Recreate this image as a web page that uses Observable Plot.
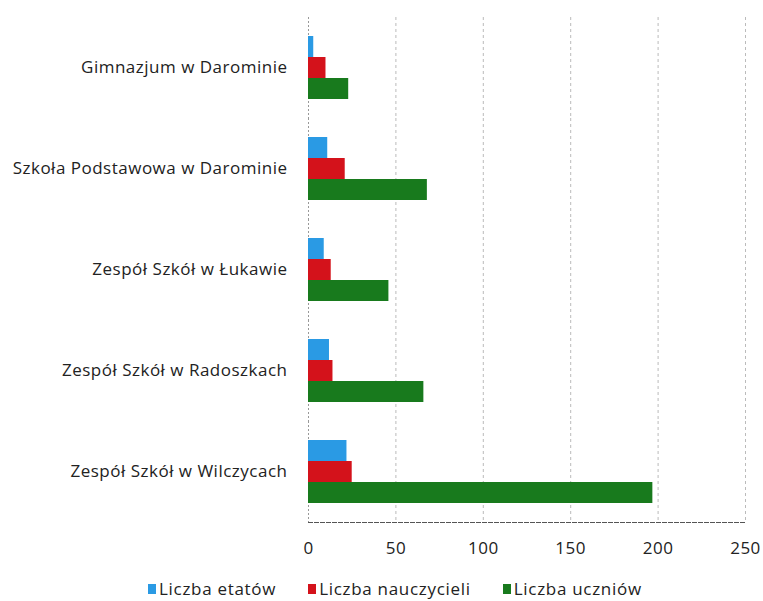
<!DOCTYPE html>
<html>
<head>
<meta charset="utf-8">
<script src="https://cdn.jsdelivr.net/npm/d3@7"></script>
<script src="https://cdn.jsdelivr.net/npm/@observablehq/plot@0.6"></script>
<style>
  html, body { margin: 0; padding: 0; background: #fff; }
  body { width: 763px; height: 601px; overflow: hidden; font-family: "Open Sans", sans-serif; }
  #legend { display: flex; align-items: center; margin-left: 148px; margin-top: 12px; font-size: 17px; letter-spacing: 0.7px; color: #222; }
  #legend .item { display: flex; align-items: center; margin-right: 32px; }
  #legend .sw { width: 8px; height: 10px; margin-right: 3px; }
</style>
</head>
<body>
<div id="chart"></div>
<div id="legend"></div>
<script>
const schools = [
  "Gimnazjum w Darominie",
  "Szkoła Podstawowa w Darominie",
  "Zespół Szkół w Łukawie",
  "Zespół Szkół w Radoszkach",
  "Zespół Szkół w Wilczycach"
];
const seriesNames = ["Liczba etatów", "Liczba nauczycieli", "Liczba uczniów"];
const seriesColors = ["#2a9ae4", "#d4121b", "#187a1d"];
const etaty = [3, 11, 9, 12, 22];
const nauczyciele = [10, 21, 13, 14, 25];
const uczniowie = [23, 68, 46, 66, 197];
const xTicks = [0, 50, 100, 150, 200, 250];

const seriesValues = [etaty, nauczyciele, uczniowie];
const data = [];
schools.forEach((s, i) => {
  seriesNames.forEach((n, j) => {
    data.push({school: s, series: n, value: seriesValues[j][i]});
  });
});

const chart = Plot.plot({
  width: 763,
  height: 565,
  marginLeft: 308,
  marginRight: 18,
  marginTop: 16,
  marginBottom: 42,
  style: {fontFamily: "'Open Sans', sans-serif", fontSize: "17px", letterSpacing: "0.5px", color: "#222", background: "#fff"},
  x: {domain: [0, 250], ticks: xTicks, tickSize: 0, tickPadding: 19, label: null},
  y: {domain: seriesNames, axis: null, paddingInner: 0, paddingOuter: 0.8},
  fy: {domain: schools, axis: "left", tickSize: 0, tickPadding: 21, label: null, padding: 0},
  color: {domain: seriesNames, range: seriesColors},
  marks: [
    Plot.ruleX(xTicks.slice(1), {stroke: "#bbb", strokeDasharray: "3,3"}),
    Plot.ruleX([0], {stroke: "#999", strokeDasharray: "2,2"}),
    Plot.barX(data, {x: "value", y: "series", fy: "school", fill: "series"}),
    Plot.frame({anchor: "bottom", facet: "super", stroke: "#555", strokeDasharray: "4,2"})
  ]
});
document.getElementById("chart").appendChild(chart);

const legend = document.getElementById("legend");
seriesNames.forEach((n, j) => {
  const item = document.createElement("div");
  item.className = "item";
  const sw = document.createElement("div");
  sw.className = "sw";
  sw.style.background = seriesColors[j];
  const t = document.createElement("span");
  t.textContent = n;
  item.appendChild(sw);
  item.appendChild(t);
  legend.appendChild(item);
});
</script>
</body>
</html>
